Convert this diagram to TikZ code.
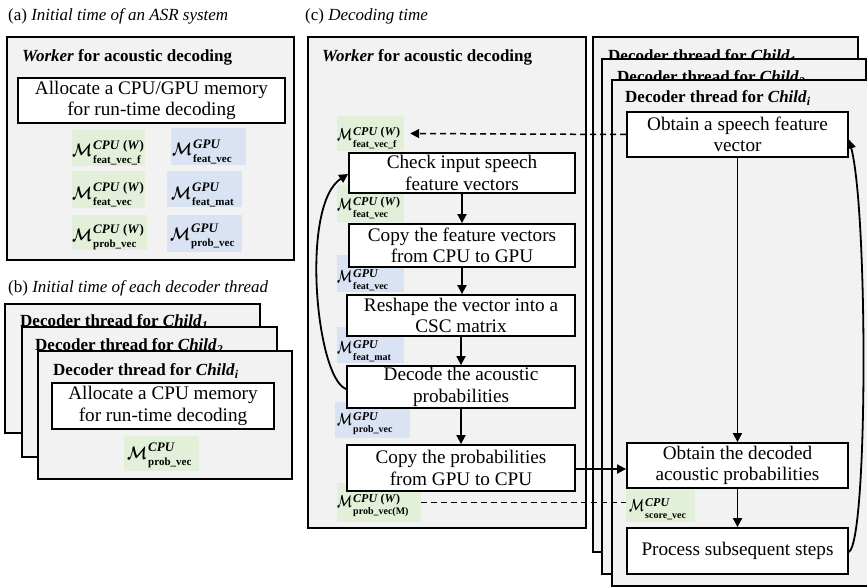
\documentclass[tikz,border=0pt]{standalone}
\usepackage{amsmath}
\usepackage{bm}
\usepackage{graphicx}
\usepackage{fontspec}
\setmainfont{Liberation Serif}
\usetikzlibrary{arrows.meta}
\definecolor{panelgray}{RGB}{242,242,242}
\definecolor{memgreen}{RGB}{226,240,217}
\definecolor{memblue}{RGB}{218,227,243}
\newsavebox\memsupbox
\newsavebox\memsubbox
\newcommand{\memgen}[8]{%
  \sbox\memsupbox{\fontsize{#3}{#3}\selectfont\bfseries #7}%
  \sbox\memsubbox{\fontsize{#4}{#4}\selectfont\bfseries #8}%
  \resizebox{#1}{#2}{$\bm{\mathcal{M}}$}\kern1pt
  \rlap{\raisebox{#5}{\usebox\memsupbox}}\raisebox{-#6}{\usebox\memsubbox}%
  \ifdim\wd\memsupbox>\wd\memsubbox\kern\dimexpr\wd\memsupbox-\wd\memsubbox\relax\fi}
\newcommand{\memA}[2]{\memgen{20pt}{12.5pt}{13}{11}{7.2pt}{6.5pt}{#1}{#2}}
\newcommand{\memC}[2]{\memgen{15pt}{12pt}{12}{10}{5pt}{7pt}{#1}{#2}}
\newcommand{\cpuw}{\textit{CPU} (\textit{W})}
\tikzset{
  panel/.style={draw, line width=1.8pt, fill=panelgray},
  stepbox/.style={draw, line width=1.8pt, fill=white, align=center, inner sep=0pt,
    font=\fontsize{19.2}{21.5}\selectfont},
  captxt/.style={anchor=west, inner sep=0pt, font=\fontsize{17}{20}\selectfont},
  ttl/.style={anchor=west, inner sep=0pt, font=\fontsize{17}{20}\selectfont\bfseries},
  memg/.style={fill=memgreen, inner sep=0pt},
  memb/.style={fill=memblue, inner sep=0pt},
  memtxt/.style={anchor=base west, inner sep=0pt},
  arr/.style={line width=1.8pt, -{Triangle[length=9pt,width=9pt]}},
  dashln/.style={line width=1.5pt, dash pattern=on 6pt off 4pt},
}
\begin{document}
\begin{tikzpicture}[x=1pt,y=-1pt]
\clip (0,0) rectangle (867,588);
\useasboundingbox (0,0) rectangle (867,588);
\fill[white] (0,0) rectangle (867,588);

% ---------- (a) ----------
\node[captxt] (capa) at (8,16) {(a) \textit{Initial time of an ASR system}};
\draw[panel] (7,37) rectangle (294,260);
\node[ttl] (ttla) at (22,57) {\textit{Worker} for acoustic decoding};
\node[stepbox, minimum width=267, minimum height=45] (allocA) at (151.5,100.5)
  {Allocate a CPU/GPU memory\\for run-time decoding};
\node[memg, minimum width=73, minimum height=36] (mA1) at (108.5,148) {};
\node[memtxt] (mA1t) at (72,157) {\memA{\cpuw}{feat\_vec\_f}};
\node[memb, minimum width=75, minimum height=37] (mA2) at (208.5,146.5) {};
\node[memtxt] (mA2t) at (172,156) {\memA{\textit{GPU}}{feat\_vec}};
\node[memg, minimum width=73, minimum height=37] (mA3) at (108.5,189.5) {};
\node[memtxt] (mA3t) at (72,199) {\memA{\cpuw}{feat\_vec}};
\node[memb, minimum width=75, minimum height=36] (mA4) at (204.5,189) {};
\node[memtxt] (mA4t) at (171,199) {\memA{\textit{GPU}}{feat\_mat}};
\node[memg, minimum width=75, minimum height=35] (mA5) at (109.5,232.5) {};
\node[memtxt] (mA5t) at (72,241) {\memA{\cpuw}{prob\_vec}};
\node[memb, minimum width=75, minimum height=37] (mA6) at (204.5,233.5) {};
\node[memtxt] (mA6t) at (170,240) {\memA{\textit{GPU}}{prob\_vec}};

% ---------- (b) ----------
\node[captxt] (capb) at (8,288) {(b) \textit{Initial time of each decoder thread}};
\draw[panel] (5,304) rectangle (260,433);
\node[ttl] (tb1) at (20,322) {Decoder thread for \textit{Child}\textsubscript{\textit{1}}};
\draw[panel] (22,327) rectangle (277,457);
\node[ttl] (tb2) at (35,346) {Decoder thread for \textit{Child}\textsubscript{\textit{2}}};
\draw[panel] (38,351) rectangle (292,479);
\node[ttl] (tb3) at (53,371) {Decoder thread for \textit{Child}\textsubscript{\textit{i}}};
\node[stepbox, minimum width=222, minimum height=46] (allocB) at (163,406)
  {Allocate a CPU memory\\for run-time decoding};
\node[memg, minimum width=75, minimum height=35] (mB) at (161.5,453.5) {};
\node[memtxt] (mBt) at (127,459) {\memA{\textit{CPU}}{prob\_vec}};

% ---------- (c) worker ----------
\node[captxt] (capc) at (305,16) {(c) \textit{Decoding time}};
\draw[panel] (308,37) rectangle (586,528);
\node[ttl] (ttlc) at (322,57) {\textit{Worker} for acoustic decoding};
\node[memg, minimum width=67, minimum height=35] (mC1) at (370.5,133.5) {};
\node[memtxt] (mC1t) at (337,141) {\memC{\cpuw}{feat\_vec\_f}};
\node[memg, minimum width=67, minimum height=37] (mC2) at (370.5,203.5) {};
\node[memtxt] (mC2t) at (337,211) {\memC{\cpuw}{feat\_vec}};
\node[memb, minimum width=67, minimum height=37] (mC3) at (370.5,273.5) {};
\node[memtxt] (mC3t) at (337,282) {\memC{\textit{GPU}}{feat\_vec}};
\node[memb, minimum width=67, minimum height=36] (mC4) at (370.5,345) {};
\node[memtxt] (mC4t) at (337,353) {\memC{\textit{GPU}}{feat\_mat}};
\node[memb, minimum width=75, minimum height=36] (mC5) at (372.5,420) {};
\node[memtxt] (mC5t) at (337,425) {\memC{\textit{GPU}}{prob\_vec}};
\node[memg, minimum width=84, minimum height=39] (mC6) at (379,502.5) {};
\node[memtxt] (mC6t) at (337,507) {\memC{\cpuw}{prob\_vec(M)}};
\node[stepbox, minimum width=226, minimum height=40] (check) at (462,173)
  {Check input speech\\feature vectors};
\node[stepbox, minimum width=226, minimum height=43] (copy1) at (462,245.5)
  {Copy the feature vectors\\from CPU to GPU};
\node[stepbox, minimum width=228, minimum height=41] (reshape) at (461,315.5)
  {Reshape the vector into a\\CSC matrix};
\node[stepbox, minimum width=228, minimum height=42] (decode) at (461,387)
  {Decode the acoustic\\probabilities};
\node[stepbox, minimum width=228, minimum height=46] (copy2) at (461,468)
  {Copy the probabilities\\from GPU to CPU};

% ---------- (c) decoder threads ----------
\draw[panel] (593,37) rectangle (858,552);
\node[ttl] (td1) at (608,57) {Decoder thread for \textit{Child}\textsubscript{\textit{1}}};
\draw[panel] (602,59) rectangle (866,574);
\node[ttl] (td2) at (617,78) {Decoder thread for \textit{Child}\textsubscript{\textit{2}}};
\draw[panel] (612,80) rectangle (880,586);
\node[ttl] (td3) at (625,98) {Decoder thread for \textit{Child}\textsubscript{\textit{i}}};
\node[stepbox, minimum width=221, minimum height=45] (obtain) at (737.5,134.5)
  {Obtain a speech feature\\vector};
\node[stepbox, minimum width=221, minimum height=45] (decoded) at (737.5,465.5)
  {Obtain the decoded\\acoustic probabilities};
\node[memg, minimum width=69, minimum height=32] (mD) at (660.5,506) {};
\node[memtxt] (mDt) at (629,511) {\memC{\textit{CPU}}{score\_vec}};
\node[stepbox, minimum width=221, minimum height=46] (process) at (737.5,551)
  {Process subsequent steps};

% ---------- connectors ----------
\draw[arr] (check.south) -- (copy1.north);
\draw[arr] (copy1.south) -- (copy1.south |- reshape.north);
\draw[arr] (reshape.south) -- (decode.north);
\draw[arr] (decode.south) -- (copy2.north);
\draw[arr] ([yshift=-2]decode.west) .. controls (316,378) and (300,205) .. ([yshift=-1]check.west);
\draw[arr] ([yshift=-1]copy2.east) -- ([yshift=-1]copy2.east -| decoded.west);
\draw[arr] (obtain.south) -- (decoded.north);
\draw[arr] (decoded.south) -- (process.north);
\draw[arr] ([yshift=-1]process.east) .. controls (868,540) and (868,210) .. ([yshift=-5]obtain.east);
\draw[dashln, -{Triangle[length=9pt,width=9pt]}] (obtain.west) -- ([xshift=6]mC1.east);
\draw[dashln] (mC6.east) -- (mC6.east -| mD.west);
\end{tikzpicture}
\end{document}
